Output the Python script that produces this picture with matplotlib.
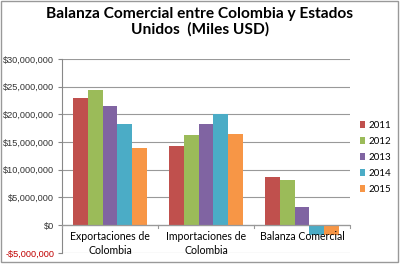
import numpy as np
import matplotlib.pyplot as plt
from matplotlib.patches import Rectangle
from matplotlib import ticker

categories = ["Exportaciones de\nColombia", "Importaciones de\nColombia", "Balanza Comercial"]
years = ["2011", "2012", "2013", "2014", "2015"]
colors = ["#C0504D", "#9BBB59", "#8064A2", "#4BACC6", "#F79646"]

# miles USD, one list per year (export, import, balanza)
v2011 = [22900000, 14300000, 8700000]
v2012 = [24400000, 16300000, 8200000]
v2013 = [21500000, 18200000, 3200000]
v2014 = [18200000, 20000000, -1700000]
v2015 = [13900000, 16400000, -1800000]
series = [v2011, v2012, v2013, v2014, v2015]

plt.rcParams['font.family'] = ['Lato', 'DejaVu Sans']

fig = plt.figure(figsize=(4, 2.64), dpi=100)
ax = fig.add_axes([0.155, 0.042, 0.72, 0.735])

x = np.arange(len(categories))
w = 1 / 6.5
for i, vals in enumerate(series):
    ax.bar(x - 2 * w + i * w, vals, width=w, color=colors[i], label=years[i], zorder=2)

ax.set_xlim(-0.5, 2.5)
ax.set_ylim(-5000000, 30000000)
ax.set_yticks(np.arange(-5000000, 30000001, 5000000))

def money(v, pos):
    if v < 0:
        return f"-${abs(v):,.0f}"
    return f"${v:,.0f}"

ax.yaxis.set_major_formatter(ticker.FuncFormatter(money))
ax.tick_params(axis='y', labelsize=6.6, length=3, color="#888888", pad=2.5)
for lab, val in zip(ax.get_yticklabels(), ax.get_yticks()):
    lab.set_family(['Liberation Sans', 'DejaVu Sans'])
    lab.set_color("#C00000" if val < 0 else "#333333")

ax.grid(axis='y', color="#999999", linewidth=0.8, zorder=0)
for s in ["top", "right", "bottom"]:
    ax.spines[s].set_visible(False)
ax.spines["left"].set_color("#888888")
ax.axhline(0, color="#999999", linewidth=0.9, zorder=3)
ax.set_xticks([])
for b in [-0.5, 0.5, 1.5, 2.5]:
    ax.plot([b, b], [0, -500000], color="#999999", linewidth=0.8, clip_on=False, zorder=3)
for xi, c in zip(x, categories):
    ax.text(xi, -1000000, c, ha="center", va="top", fontsize=7.6, linespacing=1.35, zorder=5)

ax.legend(loc="upper left", bbox_to_anchor=(1.02, 0.7), frameon=False, fontsize=7,
          handlelength=0.6, handleheight=0.6, handletextpad=0.3, labelspacing=0.72,
          borderaxespad=0)

fig.text(0.5, 0.975, "Balanza Comercial entre Colombia y Estados\nUnidos  (Miles USD)",
         ha="center", va="top", fontsize=11.2, fontweight="bold", linespacing=1.15)

fig.patches.append(Rectangle((0.003, 0.006), 0.992, 0.99, transform=fig.transFigure,
                             fill=False, edgecolor="#999999", linewidth=1))

fig.savefig("out.png", dpi=100)
